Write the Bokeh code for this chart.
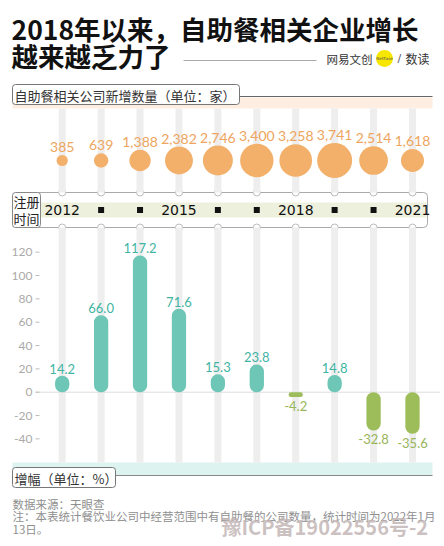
import numpy as np
from bokeh.plotting import figure
from bokeh.models import ColumnDataSource, Range1d
from bokeh.core.properties import value
from bokeh.embed import file_html
from bokeh.resources import INLINE

# ---------------- data ----------------
years = [2012, 2013, 2014, 2015, 2016, 2017, 2018, 2019, 2020, 2021]
new_companies = [385, 639, 1388, 2382, 2746, 3400, 3258, 3741, 2514, 1618]
growth_pct = [14.2, 66.0, 117.2, 71.6, 15.3, 23.8, -4.2, 14.8, -32.8, -35.6]
year_labels = ["2012", "", "", "2015", "", "", "2018", "", "", "2021"]
pct_ticks = [120, 100, 80, 60, 40, 20, 0, -20, -40]

title1 = "2018年以来，自助餐相关企业增长"
title2 = "越来越乏力了"
head1 = "自助餐相关公司新增数量（单位：家）"
head2 = "增幅（单位：%）"
strip_label = ["注册", "时间"]
source_note = "数据来源：天眼查"
note1 = "注：本表统计餐饮业公司中经营范围中有自助餐的公司数量，统计时间为2022年1月"
note2 = "13日。"
watermark = "豫ICP备19022556号-2"

CJK = "Noto Sans CJK SC"
NUM = "Lato"

W, H = 440, 540

# ---------------- figure (page-pixel coordinates) ----------------
p = figure(width=W, height=H, x_range=Range1d(0, W), y_range=Range1d(H, 0),
           output_backend="svg", toolbar_location=None, min_border=0,
           x_axis_location=None, y_axis_location=None)
p.extra_x_ranges = {"yr": Range1d(2010.4147, 2021.7199)}
p.extra_y_ranges = {"pct": Range1d(-127.11, 335.74)}
p.grid.visible = False
p.outline_line_color = None
p.background_fill_color = "white"
p.border_fill_color = "white"


def txt(x, y, s, size, color, font=CJK, style="normal", align="left", baseline="middle", **kw):
    p.text(x=[x], y=[y], text=[s], text_font=value(font), text_font_size=size,
           text_color=color, text_font_style=style, text_align=align,
           text_baseline=baseline, **kw)


# ---------------- title ----------------
txt(11, 28, title1, "26.5px", "#111111", style="bold")
txt(11, 55, title2, "26.5px", "#111111", style="bold")
p.segment(x0=[183], y0=[60], x1=[316], y1=[60], line_color="#aaaaaa", line_width=1)
txt(326, 58, "网易文创", "11.5px", "#333333")
p.scatter(x=[384], y=[58], size=17, fill_color="#f6e600", line_color=None)
txt(384, 58, "NetEase", "4px", "#555555", font="DejaVu Sans", align="center")
txt(397, 58, "/", "11px", "#555555", font="DejaVu Sans")
txt(405, 58, "数读", "12px", "#333333")

# ---------------- bands ----------------
p.quad(left=12, right=432, top=97, bottom=108, fill_color="#fdeee1", line_color=None)
p.segment(x0=[239], y0=[96], x1=[432], y1=[96], line_color="#666666", line_width=1)
p.quad(left=12, right=432, top=462, bottom=475, fill_color="#ddf3ef", line_color=None)
p.segment(x0=[115], y0=[475], x1=[432], y1=[475], line_color="#888888", line_width=1)

# strip box
p.quad(left=12, right=427, top=192, bottom=227, fill_color="white",
       line_color="#aaaaaa", line_width=1, border_radius=4)

src = ColumnDataSource(dict(
    year=years,
    n=new_companies,
    nlab=[f"{v:,}" for v in new_companies],
    size=list(np.sqrt(np.array(new_companies)) * 35 / np.sqrt(3741)),
))

# notches in strip box edges
p.scatter(x="year", y=192, size=7, fill_color="white", line_color="#bbbbbb",
          source=src, x_range_name="yr")
p.scatter(x="year", y=227, size=7, fill_color="white", line_color="#bbbbbb",
          source=src, x_range_name="yr")

# vertical stripes
p.vbar(x="year", width=0.18, top=108, bottom=192, fill_color="#eeeeee", line_color=None,
       source=src, x_range_name="yr")
p.vbar(x="year", width=0.18, top=227, bottom=462, fill_color="#eeeeee", line_color=None,
       source=src, x_range_name="yr")

# inner strip band & label
p.quad(left=40, right=426, top=202, bottom=217, fill_color="#eef0de", line_color=None)
p.quad(left=12, right=40, top=192, bottom=227, fill_color="white",
       line_color="#888888", line_width=1, border_radius=3)
txt(26, 201, strip_label[0], "13px", "#222222", align="center")
txt(26, 218, strip_label[1], "13px", "#222222", align="center")

lab_years = [y for y, l in zip(years, year_labels) if l]
lab_text = [l for l in year_labels if l]
sq_years = [y for y, l in zip(years, year_labels) if not l]
p.text(x=lab_years, y=209.5, text=lab_text, x_range_name="yr",
       text_font=value("DejaVu Sans"), text_font_size="14px", text_color="#111111",
       text_align="center", text_baseline="middle")
p.scatter(x=sq_years, y=209.5, marker="square", size=6, fill_color="#111111",
          line_color=None, x_range_name="yr")

# header boxes
p.quad(left=12, right=239, top=84, bottom=104, fill_color="white",
       line_color="#777777", line_width=1, border_radius=3)
txt(14, 94.5, head1, "13px", "#333333")
p.quad(left=12, right=115, top=467, bottom=487, fill_color="white",
       line_color="#777777", line_width=1, border_radius=3)
txt(14, 477.5, head2, "13px", "#333333")

# ---------------- bubbles ----------------
p.scatter(x="year", y=160, size="size", fill_color="#f2b06a", line_color=None,
          source=src, x_range_name="yr")
lab_y = [160 - s / 2 - 3 for s in src.data["size"]]
p.text(x=years, y=lab_y, text=src.data["nlab"], x_range_name="yr",
       text_font=value(NUM), text_font_size="14px", text_color="#eea55e",
       text_align="center", text_baseline="bottom")

# ---------------- growth bars ----------------
p.segment(x0=[35], y0=[0], x1=[440], y1=[0], y_range_name="pct",
          line_color="#dddddd", line_width=1)
p.text(x=32, y=pct_ticks, text=[str(t) for t in pct_ticks], y_range_name="pct",
       text_font=value(NUM), text_font_size="12px", text_color="#aaaaaa",
       text_align="right", text_baseline="middle")
p.segment(x0=35, y0=pct_ticks, x1=39, y1=pct_ticks, y_range_name="pct",
          line_color="#bbbbbb", line_width=1)

colors = ["#6dc6b6" if g >= 0 else "#9dbd5b" for g in growth_pct]
bsrc = ColumnDataSource(dict(year=years, g=growth_pct, c=colors,
                             lab=[f"{g:.1f}" for g in growth_pct]))
p.vbar(x="year", width=0.367, top="g", bottom=0, fill_color="c", line_color=None,
       source=bsrc, x_range_name="yr", y_range_name="pct", border_radius=7)

pos = [i for i, g in enumerate(growth_pct) if g >= 0]
neg = [i for i, g in enumerate(growth_pct) if g < 0]
p.text(x=[years[i] for i in pos], y=[growth_pct[i] for i in pos],
       text=[bsrc.data["lab"][i] for i in pos], x_range_name="yr", y_range_name="pct",
       y_offset=-2, text_font=value(NUM), text_font_size="13px", text_color="#3fb4a3",
       text_align="center", text_baseline="bottom")
p.text(x=[years[i] for i in neg], y=[growth_pct[i] for i in neg],
       text=[bsrc.data["lab"][i] for i in neg], x_range_name="yr", y_range_name="pct",
       y_offset=4, text_font=value(NUM), text_font_size="13px", text_color="#98b558",
       text_align="center", text_baseline="top")

# ---------------- footer ----------------
txt(12, 503, source_note, "11.5px", "#8f8f8f")
txt(12, 515.5, note1, "11.5px", "#8f8f8f")
txt(12, 528, note2, "11.5px", "#8f8f8f")
txt(221, 526, watermark, "20px", "#c3b6b6", style="bold", text_alpha=0.85)

open("out.html", "w").write(file_html(p, INLINE))
